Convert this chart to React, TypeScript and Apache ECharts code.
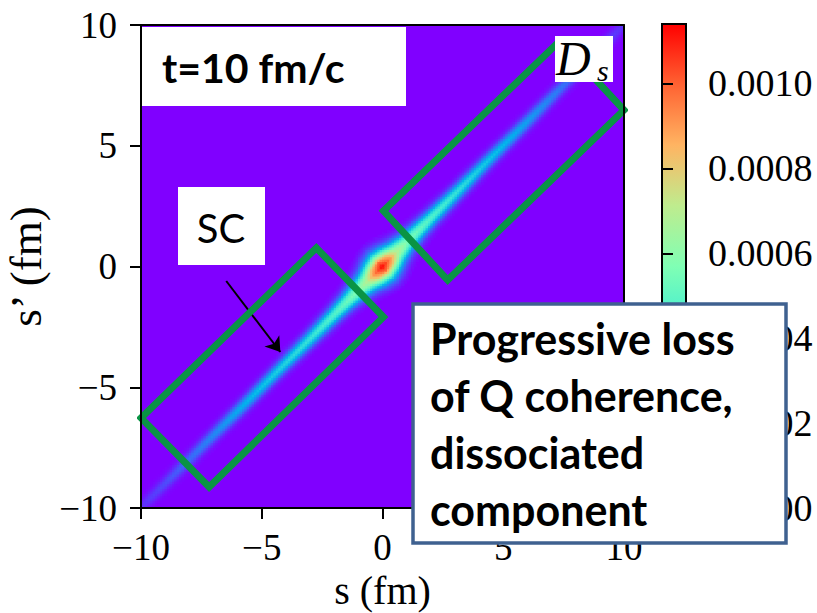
import React, { useEffect, useRef } from "react";
import * as echarts from "echarts";

// ---- data ----
const axisTicks = [-10, -5, 0, 5, 10];
const colorbarTicks = [0, 0.0002, 0.0004, 0.0006, 0.0008, 0.001];
const colorbarMax = 0.00114;

// position along the diagonal s = s' (fm)
const alongS = [-10, -9, -8, -7, -6, -5, -4, -3, -2, -1.5, -1, -0.6, -0.3, 0, 0.3, 0.6, 1, 1.5, 2, 3, 4, 5, 6, 7, 8, 9, 10];
// density on the ridge at that position
const ridgePeak = [0.00007, 0.00011, 0.00016, 0.00021, 0.00027, 0.00032, 0.00037, 0.00041, 0.00047, 0.00052, 0.00058, 0.0007, 0.00095, 0.00114, 0.00095, 0.0007, 0.00058, 0.00052, 0.00047, 0.00041, 0.00035, 0.0003, 0.00025, 0.0002, 0.00015, 0.00011, 0.00007];
// width of the ridge across the diagonal, |s' - s| (fm)
const ridgeWidth = [0.23, 0.23, 0.24, 0.24, 0.25, 0.25, 0.26, 0.28, 0.31, 0.34, 0.4, 0.48, 0.55, 0.58, 0.55, 0.48, 0.4, 0.34, 0.31, 0.28, 0.26, 0.25, 0.25, 0.24, 0.24, 0.23, 0.23];
// profile across the ridge, in units of ridgeWidth
const crossUnit = [0, 0.5, 1, 1.5, 2, 2.5, 3];
const crossFactor = [1, 0.88, 0.6, 0.32, 0.14, 0.05, 0];

// overlay boxes (corner points in fm)
const scBox = [[-2.74, 0.77], [0.04, -2.09], [-7.18, -9.13], [-10, -6.27]];
const dsBox = [[0.04, 2.3], [2.7, -0.56], [10, 6.48], [7.34, 9.34]];
const scArrow = [[-6.47, -0.6], [-4.23, -3.54]];

const rainbow = ["#8000ff", "#4062fa", "#00b4ec", "#40ecd4", "#80ffb4", "#bfec8e", "#ffb462", "#ff6232", "#ff0000"];

function lookup(xs: number[], ys: number[], x: number): number {
  if (x <= xs[0]) return ys[0];
  if (x >= xs[xs.length - 1]) return ys[ys.length - 1];
  for (let k = 0; k < xs.length - 1; k++) {
    if (x >= xs[k] && x <= xs[k + 1]) {
      const f = (x - xs[k]) / (xs[k + 1] - xs[k]);
      return ys[k] + f * (ys[k + 1] - ys[k]);
    }
  }
  return 0;
}

const CELL = 0.1;
function buildCells() {
  const out: number[][] = [];
  const n = Math.round(20 / CELL);
  for (let i = 0; i < n; i++) {
    const s = -10 + CELL / 2 + i * CELL;
    for (let j = 0; j < n; j++) {
      const sp = -10 + CELL / 2 + j * CELL;
      const u = (s + sp) / 2;
      const d = Math.abs(sp - s);
      const w = lookup(alongS, ridgeWidth, u);
      const t = d / w;
      if (t >= 3) continue;
      const v = lookup(alongS, ridgePeak, u) * lookup(crossUnit, crossFactor, t);
      if (v < 2e-6) continue;
      out.push([s, sp, v]);
    }
  }
  return out;
}

function closed(pts: number[][]) {
  return [...pts, pts[0], pts[1]];
}

const serif = "Liberation Serif";
const minus = (v: number) => String(v).replace("-", "\u2212");

export default function App() {
  const ref = useRef<HTMLDivElement>(null);
  useEffect(() => {
    if (!ref.current) return;
    const chart = echarts.init(ref.current, null, { renderer: "svg" });
    const cells = buildCells();
    const axisLabel = { fontFamily: serif, fontSize: 37, color: "#000" };
    const option: any = {
      animation: false,
      grid: [
        { left: 141, top: 25, width: 483, height: 483, show: true, backgroundColor: "#8000ff", borderWidth: 0, containLabel: false, outerBoundsMode: "none" },
        { left: 662, top: 24, width: 24, height: 484, show: false, containLabel: false, outerBoundsMode: "none" },
      ],
      visualMap: {
        type: "continuous",
        show: false,
        min: 0,
        max: colorbarMax,
        dimension: 2,
        seriesIndex: 0,
        inRange: { color: rainbow },
      },
      xAxis: [
        {
          gridIndex: 0, type: "value", min: -10, max: 10, interval: 5, position: "bottom", z: 10,
          axisLine: { show: true, onZero: false, lineStyle: { color: "#000", width: 2 } },
          axisTick: { show: true, inside: false, length: 11, lineStyle: { color: "#000", width: 2 }, customValues: axisTicks },
          axisLabel: { ...axisLabel, margin: 21, customValues: axisTicks, formatter: minus },
          splitLine: { show: false },
          name: "s (fm)", nameLocation: "middle", nameGap: 56,
          nameTextStyle: { fontFamily: serif, fontSize: 40, color: "#000" },
        },
        {
          gridIndex: 0, type: "value", min: -10, max: 10, position: "top", z: 10,
          axisLine: { show: true, onZero: false, lineStyle: { color: "#000", width: 2 } },
          axisTick: { show: false }, axisLabel: { show: false }, splitLine: { show: false },
        },
        { gridIndex: 1, type: "value", min: 0, max: 1, show: false },
      ],
      yAxis: [
        {
          gridIndex: 0, type: "value", min: -10, max: 10, interval: 5, position: "left", z: 10,
          axisLine: { show: true, onZero: false, lineStyle: { color: "#000", width: 2 } },
          axisTick: { show: true, inside: false, length: 11, lineStyle: { color: "#000", width: 2 }, customValues: axisTicks },
          axisLabel: { ...axisLabel, margin: 24, customValues: axisTicks, formatter: minus },
          splitLine: { show: false },
          name: "s\u2019 (fm)", nameLocation: "middle", nameGap: 80,
          nameTextStyle: { fontFamily: serif, fontSize: 45, color: "#000" },
        },
        {
          gridIndex: 0, type: "value", min: -10, max: 10, position: "right", z: 10,
          axisLine: { show: true, onZero: false, lineStyle: { color: "#000", width: 2 } },
          axisTick: { show: false }, axisLabel: { show: false }, splitLine: { show: false },
        },
        {
          gridIndex: 1, type: "value", min: 0, max: colorbarMax, interval: 0.0002, position: "right", z: 10,
          axisLine: { show: false },
          axisTick: { show: true, inside: false, length: 11, lineStyle: { color: "#000", width: 2 }, customValues: colorbarTicks },
          axisLabel: { ...axisLabel, fontSize: 38, margin: 22, customValues: colorbarTicks, formatter: (v: number) => v.toFixed(4) },
          splitLine: { show: false },
        },
      ],
      series: [
        {
          type: "custom",
          xAxisIndex: 0,
          yAxisIndex: 0,
          progressive: 0,
          clip: true,
          encode: { x: 0, y: 1 },
          data: cells,
          silent: true,
          renderItem: (params: any, api: any) => {
            const c = api.coord([api.value(0), api.value(1)]);
            const sz = api.size([CELL, CELL]);
            return {
              type: "rect",
              shape: { x: c[0] - sz[0] / 2 - 0.4, y: c[1] - sz[1] / 2 - 0.4, width: sz[0] + 0.8, height: sz[1] + 0.8 },
              style: { fill: api.visual("color") },
            };
          },
        },
        {
          type: "line", xAxisIndex: 0, yAxisIndex: 0, z: 5, silent: true,
          data: closed(scBox), symbol: "none",
          lineStyle: { color: "#0a9445", width: 7, join: "miter" },
          markLine: {
            silent: true,
            symbol: ["none", "arrow"],
            symbolSize: 14,
            label: { show: false },
            lineStyle: { color: "#000", width: 2, type: "solid" },
            data: [[{ coord: scArrow[0] }, { coord: scArrow[1] }]],
          },
        },
        {
          type: "line", xAxisIndex: 0, yAxisIndex: 0, z: 5, silent: true,
          data: closed(dsBox), symbol: "none",
          lineStyle: { color: "#0a9445", width: 7, join: "miter" },
        },
      ],
      graphic: [
        {
          type: "rect", z: 4, shape: { x: 662, y: 24, width: 24, height: 484 },
          style: {
            fill: new echarts.graphic.LinearGradient(0, 1, 0, 0, rainbow.map((c, k) => ({ offset: k / (rainbow.length - 1), color: c }))),
            stroke: "#000", lineWidth: 2,
          },
        },
        { type: "rect", z: 100, shape: { x: 142, y: 27, width: 264, height: 79 }, style: { fill: "#fff" } },
        {
          type: "text", z: 101, x: 162, y: 67,
          style: { text: "t=10 fm/c", fontFamily: "Lato", fontWeight: "bold", fontSize: 41, fill: "#000", align: "left", verticalAlign: "middle" },
        },
        { type: "rect", z: 100, shape: { x: 178, y: 187, width: 87, height: 78 }, style: { fill: "#fff" } },
        {
          type: "text", z: 101, x: 221, y: 228,
          style: { text: "SC", fontFamily: "Lato", fontSize: 40, fill: "#000", align: "center", verticalAlign: "middle" },
        },
        { type: "rect", z: 100, shape: { x: 555, y: 36, width: 58, height: 46 }, style: { fill: "#fff" } },
        {
          type: "text", z: 101, x: 556, y: 58,
          style: { text: "D", fontFamily: serif, fontStyle: "italic", fontSize: 48, fill: "#000", align: "left", verticalAlign: "middle" },
        },
        {
          type: "text", z: 101, x: 597, y: 70,
          style: { text: "s", fontFamily: serif, fontStyle: "italic", fontSize: 30, fill: "#000", align: "left", verticalAlign: "middle" },
        },
        {
          type: "rect", z: 100, shape: { x: 413, y: 304, width: 373, height: 239 },
          style: { fill: "#fff", stroke: "#3f6190", lineWidth: 3.5 },
        },
        {
          type: "text", z: 101, x: 430, y: 310,
          style: {
            text: "Progressive loss\nof Q coherence,\ndissociated\ncomponent",
            fontFamily: "Lato", fontWeight: "bold", fontSize: 43, lineHeight: 57, fill: "#000",
            align: "left", verticalAlign: "top",
          },
        },
      ],
    };
    chart.setOption(option);
    return () => chart.dispose();
  }, []);
  return <div ref={ref} style={{ position: "fixed", left: 0, top: 0, width: 817, height: 613, background: "#fff" }} />;
}
